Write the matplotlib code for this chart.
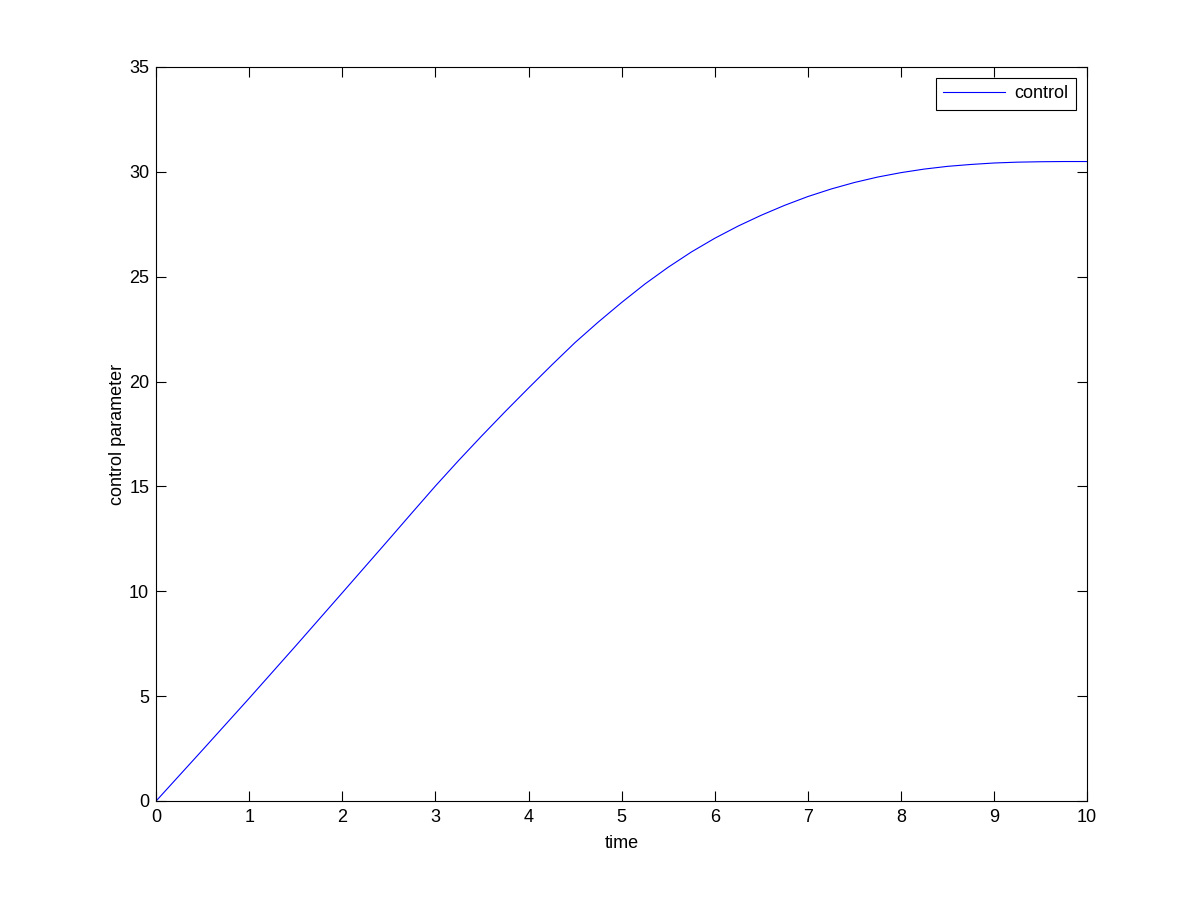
import matplotlib
matplotlib.use("Agg")
import matplotlib.pyplot as plt

time = [0, 0.5, 1, 1.5, 2, 2.5, 2.75, 3, 3.25, 3.5, 3.75, 4, 4.25, 4.5, 4.75, 5, 5.25, 5.5,
        5.75, 6, 6.25, 6.5, 6.75, 7, 7.25, 7.5, 7.75, 8, 8.25, 8.5, 8.75, 9, 9.25,
        9.5, 9.75, 10]
control = [0, 2.44, 4.9, 7.4, 9.93, 12.47, 13.75, 15.02, 16.24, 17.42, 18.57, 19.69, 20.79,
           21.86, 22.84, 23.77, 24.65, 25.45, 26.18, 26.83, 27.41, 27.93, 28.4, 28.82,
           29.18, 29.49, 29.75, 29.96, 30.13, 30.26, 30.35, 30.42, 30.46, 30.48, 30.49,
           30.49]
xticks = list(range(0, 11))
yticks = list(range(0, 36, 5))

plt.rcParams['font.family'] = ['Liberation Sans', 'DejaVu Sans']
plt.rcParams['font.size'] = 13

fig = plt.figure(figsize=(12.01, 9.01), dpi=100)
ax = fig.add_axes([0.13, 0.111, 0.7752, 0.8147])
ax.plot(time, control, color=(0, 0, 1), lw=0.8, label='control')
ax.set_xlim(0, 10)
ax.set_ylim(0, 35)
ax.set_xticks(xticks)
ax.set_yticks(yticks)
ax.tick_params(direction='in', length=7, width=0.8, top=True, right=True, labelsize=13)
ax.tick_params(axis='x', pad=6)
ax.tick_params(axis='y', pad=5)
for s in ax.spines.values():
    s.set_linewidth(0.8)
ax.set_xlabel('time', fontsize=13, labelpad=6)
ax.set_ylabel('control parameter', fontsize=13, labelpad=2.5)
leg = ax.legend(loc='upper right', fancybox=False, edgecolor='black', framealpha=1,
                borderaxespad=0.6, handlelength=3.4, handletextpad=0.55, borderpad=0.42,
                fontsize=13)
leg.get_frame().set_linewidth(0.8)
fig.savefig('out.png', dpi=100)
